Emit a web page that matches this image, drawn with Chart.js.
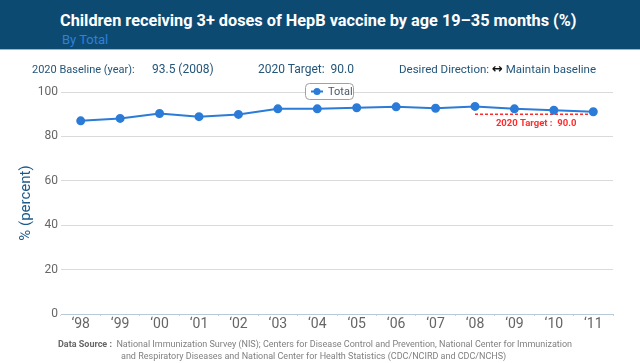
<!DOCTYPE html>
<html>
<head>
<meta charset="utf-8">
<script src="https://cdn.jsdelivr.net/npm/chart.js@4"></script>
<style>
  body { margin: 0; width: 640px; height: 363px; overflow: hidden; background: #fff; font-family: Roboto, "Liberation Sans", sans-serif; }
  .header { position: absolute; left: 0; top: 0; width: 640px; height: 49px; background: #0d4a72; border-bottom: 1px solid #9bb6cb; }
  .title { position: absolute; left: 60px; top: 11px; color: #fff; font-size: 16.3px; font-weight: bold; white-space: nowrap; }
  .subtitle { position: absolute; left: 62px; top: 32px; color: #2f80d8; font-size: 13px; }
  .info { position: absolute; top: 62px; color: #24567a; font-size: 12px; white-space: nowrap; }
  .arrow { color: #111; font-family: "DejaVu Sans", sans-serif; font-size: 13px; font-weight: bold; line-height: 12px; }
  .src { position: absolute; color: #808080; font-size: 9px; white-space: nowrap; }
  .src b { color: #666; }
  #chart { position: absolute; left: 0; top: 0; }
</style>
</head>
<body>
<canvas id="chart" width="640" height="363"></canvas>
<div class="header">
  <div class="title">Children receiving 3+ doses of HepB vaccine by age 19–35 months (%)</div>
  <div class="subtitle">By Total</div>
</div>
<div class="info" style="left:32px;font-size:11px;top:63px">2020 Baseline (year):</div>
<div class="info" style="left:152px">93.5 (2008)</div>
<div class="info" style="left:258px">2020 Target:&nbsp; 90.0</div>
<div class="info" style="left:399px;font-size:11.5px">Desired Direction: <span class="arrow">&#8596;</span> Maintain baseline</div>
<div class="src" style="left:58px;top:339px"><b>Data Source :</b>&nbsp; National Immunization Survey (NIS); Centers for Disease Control and Prevention, National Center for Immunization</div>
<div class="src" style="left:121px;top:351px">and Respiratory Diseases and National Center for Health Statistics (CDC/NCIRD and CDC/NCHS)</div>

<script>
const years = ['\u201898', '\u201899', '\u201800', '\u201801', '\u201802', '\u201803', '\u201804', '\u201805', '\u201806', '\u201807', '\u201808', '\u201809', '\u201810', '\u201811']
const totalValues = [87.0, 88.1, 90.3, 88.9, 89.9, 92.4, 92.4, 92.9, 93.3, 92.7, 93.5, 92.4, 91.8, 91.1]
const targetValue = 90.0
const targetYears = ['\u201808', '\u201809', '\u201810', '\u201811']
const yTicks = [0, 20, 40, 60, 80, 100]

const targetData = years.map((y) => targetYears.includes(y) ? targetValue : null)

const blue = '#2b7bd8'
const red = '#ff2d2d'

// legend box + target label, drawn on top of the chart
const extras = {
  id: 'extras',
  afterDatasetsDraw(chart) {
    const { ctx, scales: { x, y } } = chart
    ctx.save()

    // target label under the dashed line
    const x1 = x.getPixelForValue(years.indexOf(targetYears[0]))
    const x2 = x.getPixelForValue(years.indexOf(targetYears[targetYears.length - 1]))
    ctx.font = 'bold 9.5px Roboto, sans-serif'
    ctx.fillStyle = red
    ctx.textAlign = 'center'
    ctx.textBaseline = 'middle'
    ctx.fillText('2020 Target :  ' + targetValue.toFixed(1), (x1 + x2) / 2 + 2, y.getPixelForValue(targetValue) + 9)

    // legend
    const bx = 305, by = 83, bw = 48, bh = 16
    ctx.beginPath()
    ctx.roundRect(bx + 0.5, by + 0.5, bw, bh, 4)
    ctx.fillStyle = '#fff'
    ctx.fill()
    ctx.strokeStyle = '#a0a0a0'
    ctx.lineWidth = 1
    ctx.stroke()

    ctx.strokeStyle = blue
    ctx.lineWidth = 2
    ctx.beginPath()
    ctx.moveTo(bx + 6, by + 8.5)
    ctx.lineTo(bx + 18, by + 8.5)
    ctx.stroke()
    ctx.beginPath()
    ctx.arc(bx + 12, by + 8.5, 3.5, 0, Math.PI * 2)
    ctx.fillStyle = blue
    ctx.fill()

    ctx.font = '11px Roboto, sans-serif'
    ctx.fillStyle = '#4a5866'
    ctx.textAlign = 'left'
    ctx.fillText('Total', bx + 23, by + 9)
    ctx.restore()
  }
}

new Chart(document.getElementById('chart'), {
  type: 'line',
  data: {
    labels: years,
    datasets: [{
      label: 'Total',
      data: totalValues,
      borderColor: blue,
      backgroundColor: blue,
      borderWidth: 2,
      pointRadius: 3.5,
      pointHoverRadius: 3.5,
      tension: 0,
    }, {
      label: 'Target',
      data: targetData,
      borderColor: red,
      borderWidth: 1.5,
      borderDash: [3, 2],
      pointRadius: 0,
      spanGaps: false,
    }]
  },
  options: {
    responsive: false,
    animation: false,
    layout: { padding: { left: 0, right: 27, top: 92, bottom: 19 } },
    plugins: {
      legend: { display: false },
      tooltip: { enabled: false },
    },
    scales: {
      x: {
        offset: true,
        afterFit(scale) { scale.height = 30 },
        grid: { offset: true, drawOnChartArea: false, tickLength: 2, color: '#c7d4e0' },
        border: { color: '#b9c9d8' },
        ticks: { color: '#666', font: { size: 14, family: 'Roboto' }, padding: 0 },
      },
      y: {
        min: 0,
        max: 100,
        afterFit(scale) { scale.width = 61 },
        afterBuildTicks(scale) { scale.ticks = yTicks.map((v) => ({ value: v })) },
        grid: { color: '#dadada', drawTicks: false },
        border: { display: false },
        ticks: { color: '#666', font: { size: 12, family: 'Roboto' }, padding: 3 },
        title: {
          display: true,
          text: '% (percent)',
          color: '#1b5a8a',
          font: { size: 15, family: 'Roboto' },
          padding: { top: 17, bottom: 0 },
        },
      },
    },
  },
  plugins: [extras],
})
</script>
</body>
</html>
